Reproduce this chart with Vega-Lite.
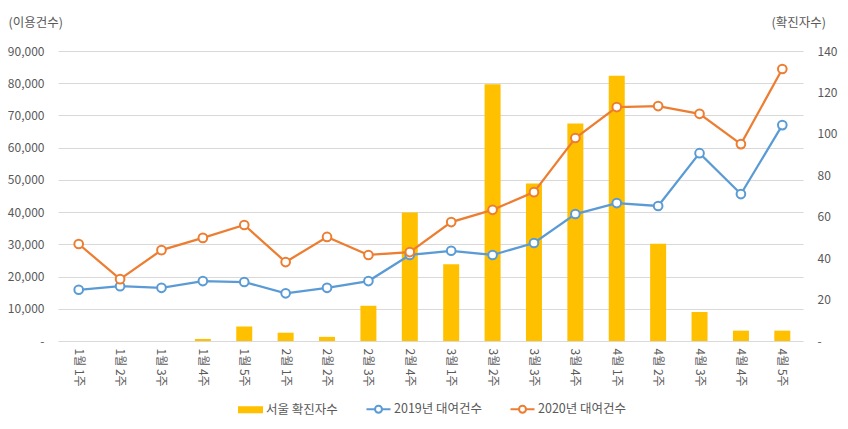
{
  "$schema": "https://vega.github.io/schema/vega-lite/v6.json",
  "width": 745,
  "height": 290,
  "autosize": "none",
  "padding": {"left": 58, "top": 51, "right": 45, "bottom": 88},
  "background": "white",
  "config": {
    "view": {"stroke": null},
    "font": "Noto Sans CJK KR",
    "axis": {
      "labelColor": "#595959",
      "labelFontSize": 12,
      "labelFont": "Noto Sans CJK KR",
      "ticks": false,
      "domain": false,
      "gridColor": "#D9D9D9",
      "gridWidth": 1,
      "titleColor": "#595959",
      "titleFontWeight": "normal",
      "titleFontSize": 12.5,
      "titleFont": "Noto Sans CJK KR"
    },
    "legend": {
      "labelColor": "#595959",
      "labelFontSize": 12.5,
      "labelFont": "Noto Sans CJK KR",
      "symbolStrokeWidth": 2,
      "padding": 0
    }
  },
  "datasets": {
    "bars": [
      {"week": "1월 1주", "series": "서울 확진자수", "confirmed": 0},
      {"week": "1월 2주", "series": "서울 확진자수", "confirmed": 0},
      {"week": "1월 3주", "series": "서울 확진자수", "confirmed": 0},
      {"week": "1월 4주", "series": "서울 확진자수", "confirmed": 1},
      {"week": "1월 5주", "series": "서울 확진자수", "confirmed": 7},
      {"week": "2월 1주", "series": "서울 확진자수", "confirmed": 4},
      {"week": "2월 2주", "series": "서울 확진자수", "confirmed": 2},
      {"week": "2월 3주", "series": "서울 확진자수", "confirmed": 17},
      {"week": "2월 4주", "series": "서울 확진자수", "confirmed": 62},
      {"week": "3월 1주", "series": "서울 확진자수", "confirmed": 37},
      {"week": "3월 2주", "series": "서울 확진자수", "confirmed": 124},
      {"week": "3월 3주", "series": "서울 확진자수", "confirmed": 76},
      {"week": "3월 4주", "series": "서울 확진자수", "confirmed": 105},
      {"week": "4월 1주", "series": "서울 확진자수", "confirmed": 128},
      {"week": "4월 2주", "series": "서울 확진자수", "confirmed": 47},
      {"week": "4월 3주", "series": "서울 확진자수", "confirmed": 14},
      {"week": "4월 4주", "series": "서울 확진자수", "confirmed": 5},
      {"week": "4월 5주", "series": "서울 확진자수", "confirmed": 5}
    ],
    "rides": [
      {"week": "1월 1주", "series": "2019년 대여건수", "count": 15900},
      {"week": "1월 2주", "series": "2019년 대여건수", "count": 17000},
      {"week": "1월 3주", "series": "2019년 대여건수", "count": 16500},
      {"week": "1월 4주", "series": "2019년 대여건수", "count": 18600},
      {"week": "1월 5주", "series": "2019년 대여건수", "count": 18300},
      {"week": "2월 1주", "series": "2019년 대여건수", "count": 14800},
      {"week": "2월 2주", "series": "2019년 대여건수", "count": 16500},
      {"week": "2월 3주", "series": "2019년 대여건수", "count": 18600},
      {"week": "2월 4주", "series": "2019년 대여건수", "count": 26700},
      {"week": "3월 1주", "series": "2019년 대여건수", "count": 28000},
      {"week": "3월 2주", "series": "2019년 대여건수", "count": 26700},
      {"week": "3월 3주", "series": "2019년 대여건수", "count": 30400},
      {"week": "3월 4주", "series": "2019년 대여건수", "count": 39400},
      {"week": "4월 1주", "series": "2019년 대여건수", "count": 42800},
      {"week": "4월 2주", "series": "2019년 대여건수", "count": 41900},
      {"week": "4월 3주", "series": "2019년 대여건수", "count": 58300},
      {"week": "4월 4주", "series": "2019년 대여건수", "count": 45600},
      {"week": "4월 5주", "series": "2019년 대여건수", "count": 67000},
      {"week": "1월 1주", "series": "2020년 대여건수", "count": 30100},
      {"week": "1월 2주", "series": "2020년 대여건수", "count": 19200},
      {"week": "1월 3주", "series": "2020년 대여건수", "count": 28200},
      {"week": "1월 4주", "series": "2020년 대여건수", "count": 32000},
      {"week": "1월 5주", "series": "2020년 대여건수", "count": 36000},
      {"week": "2월 1주", "series": "2020년 대여건수", "count": 24500},
      {"week": "2월 2주", "series": "2020년 대여건수", "count": 32300},
      {"week": "2월 3주", "series": "2020년 대여건수", "count": 26700},
      {"week": "2월 4주", "series": "2020년 대여건수", "count": 27600},
      {"week": "3월 1주", "series": "2020년 대여건수", "count": 36900},
      {"week": "3월 2주", "series": "2020년 대여건수", "count": 40700},
      {"week": "3월 3주", "series": "2020년 대여건수", "count": 46200},
      {"week": "3월 4주", "series": "2020년 대여건수", "count": 63000},
      {"week": "4월 1주", "series": "2020년 대여건수", "count": 72600},
      {"week": "4월 2주", "series": "2020년 대여건수", "count": 72900},
      {"week": "4월 3주", "series": "2020년 대여건수", "count": 70500},
      {"week": "4월 4주", "series": "2020년 대여건수", "count": 61100},
      {"week": "4월 5주", "series": "2020년 대여건수", "count": 84400}
    ]
  },
  "encoding": {
    "x": {
      "field": "week",
      "type": "nominal",
      "sort": ["1월 1주","1월 2주","1월 3주","1월 4주","1월 5주","2월 1주","2월 2주","2월 3주","2월 4주","3월 1주","3월 2주","3월 3주","3월 4주","4월 1주","4월 2주","4월 3주","4월 4주","4월 5주"],
      "scale": {"paddingInner": 0, "paddingOuter": 0},
      "axis": {"title": null, "labelAngle": 90, "labelPadding": 7, "grid": false}
    }
  },
  "layer": [
    {
      "data": {"name": "bars"},
      "mark": {"type": "bar", "size": 16},
      "encoding": {
        "y": {
          "field": "confirmed",
          "type": "quantitative",
          "scale": {"domain": [0, 140], "nice": false},
          "axis": {
            "orient": "right",
            "values": [0, 20, 40, 60, 80, 100, 120, 140],
            "labelExpr": "datum.value == 0 ? '-' : format(datum.value, ',')",
            "grid": false,
            "labelPadding": 14,
            "title": "(확진자수)",
            "titleAngle": 0,
            "titleX": -32,
            "titleY": -29,
            "titleAlign": "left",
            "titleBaseline": "middle"
          }
        },
        "color": {
          "field": "series",
          "type": "nominal",
          "scale": {
            "domain": ["서울 확진자수", "2019년 대여건수", "2020년 대여건수"],
            "range": ["#FFC000", "#5B9BD5", "#ED7D31"]
          },
          "legend": {
            "orient": "none",
            "legendX": 179.5,
            "legendY": 345,
            "direction": "horizontal",
            "title": null,
            "symbolSize": 576,
            "symbolStrokeWidth": 2,
            "labelOffset": 2.5,
            "columnPadding": 24,
            "encode": {
              "symbols": {
                "update": {
                  "shape": {"signal": "datum.value == '서울 확진자수' ? 'M-0.96,-0.21H0.96V0.21H-0.96Z' : 'M-1,0H-0.29M0.29,0H1M-0.29,0A0.29,0.29 0 0,1 0.29,0A0.29,0.29 0 0,0 -0.29,0M-0.29,0A0.29,0.29 0 0,0 0.29,0A0.29,0.29 0 0,1 -0.29,0'"},
                  "opacity": {"value": 1}
                }
              }
            }
          }
        }
      }
    },
    {
      "data": {"name": "rides"},
      "encoding": {
        "y": {
          "field": "count",
          "type": "quantitative",
          "scale": {"domain": [0, 90000], "nice": false},
          "axis": {
            "orient": "left",
            "values": [0, 10000, 20000, 30000, 40000, 50000, 60000, 70000, 80000, 90000],
            "labelExpr": "datum.value == 0 ? '-' : format(datum.value, ',')",
            "grid": true,
            "labelPadding": 14,
            "title": "(이용건수)",
            "titleAngle": 0,
            "titleX": -50,
            "titleY": -29,
            "titleAlign": "left",
            "titleBaseline": "middle"
          }
        }
      },
      "layer": [
        {
          "mark": {"type": "line", "strokeWidth": 2.25},
          "encoding": {
            "color": {"field": "series", "type": "nominal"}
          }
        },
        {
          "mark": {"type": "point", "filled": false, "fill": "white", "fillOpacity": 1, "opacity": 1, "size": 75, "strokeWidth": 2},
          "encoding": {
            "stroke": {
              "field": "series",
              "type": "nominal",
              "scale": {
                "domain": ["서울 확진자수", "2019년 대여건수", "2020년 대여건수"],
                "range": ["#FFC000", "#5B9BD5", "#ED7D31"]
              },
              "legend": null
            },
            "detail": {"field": "series"}
          }
        }
      ]
    }
  ],
  "resolve": {"scale": {"y": "independent"}, "axis": {"y": "independent"}}
}
